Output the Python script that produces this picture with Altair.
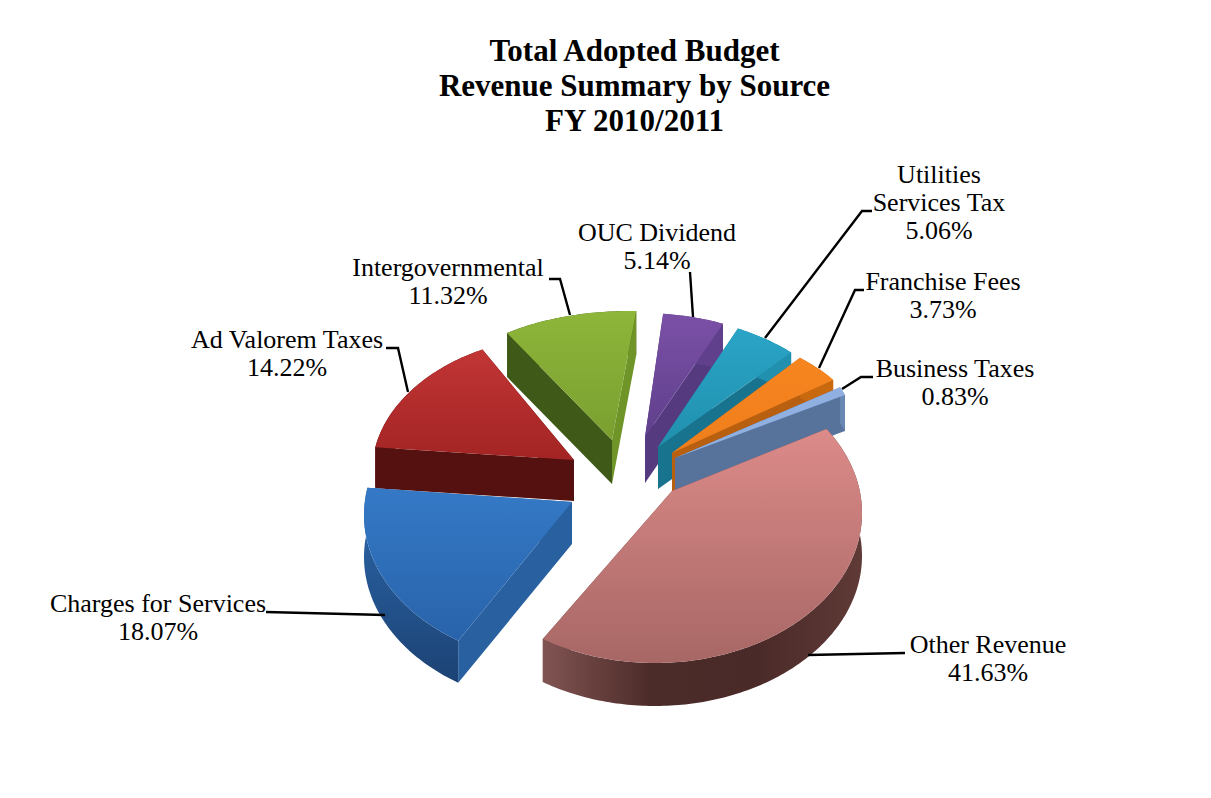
import math
import altair as alt

# ---- chart values -------------------------------------------------------
SOURCES = ["Other Revenue", "Charges for Services", "Ad Valorem Taxes", "Intergovernmental",
           "OUC Dividend", "Utilities Services Tax", "Franchise Fees", "Business Taxes"]
SHARES = [41.63, 18.07, 14.22, 11.32, 5.14, 5.06, 3.73, 0.83]
LABEL_LINES = [["Other Revenue"], ["Charges for Services"], ["Ad Valorem Taxes"], ["Intergovernmental"],
               ["OUC Dividend"], ["Utilities", "Services Tax"], ["Franchise Fees"], ["Business Taxes"]]
TITLE_LINES = ["Total Adopted Budget", "Revenue Summary by Source", "FY 2010/2011"]

# ---- layout of the tilted, exploded pie (page pixels) --------------------
# apex, ellipse centre, radii, start angle, angle stretch from perspective, depth
GEOM = {
    "Other Revenue":          dict(a=(672, 491), c=(655, 513), r=(207, 150), t=55.9, k=1.047, d=43),
    "Charges for Services":   dict(a=(572, 502), c=(571, 515), r=(207, 150), t=213.0, k=1.037, d=42),
    "Ad Valorem Taxes":       dict(a=(574, 460), c=(572, 472), r=(200, 137), t=280.4, k=1.035, d=41),
    "Intergovernmental":      dict(a=(612, 440), c=(630, 404), r=(190, 93), t=-40.3, k=1.035, d=44),
    "OUC Dividend":           dict(a=(645, 437), c=(640, 420), r=(190, 107), t=7.0, k=1.02, d=46),
    "Utilities Services Tax": dict(a=(658, 447), c=(640, 440), r=(210, 126), t=27.8, k=1.0, d=42),
    "Franchise Fees":         dict(a=(672, 453), c=(600, 430), r=(260, 113), t=50.3, k=1.0, d=40),
    "Business Taxes":         dict(a=(675, 458), c=(600, 448), r=(260, 158), t=67.4, k=1.0, d=36),
}
DRAW_ORDER = ["Intergovernmental", "Ad Valorem Taxes", "OUC Dividend", "Utilities Services Tax",
              "Franchise Fees", "Business Taxes", "Charges for Services", "Other Revenue"]
OUTER_WALL_FIRST = {"Intergovernmental"}


def vgrad(c1, c2):
    return {"gradient": "linear", "x1": 0, "y1": 0, "x2": 0, "y2": 1,
            "stops": [{"offset": 0, "color": c1}, {"offset": 1, "color": c2}]}


def hgrad(*cols):
    n = len(cols) - 1
    return {"gradient": "linear", "x1": 0, "y1": 0, "x2": 1, "y2": 0,
            "stops": [{"offset": i / n, "color": c} for i, c in enumerate(cols)]}


# top face, outer wall, wall of start edge, wall of end edge
STYLE = {
    "Other Revenue": (vgrad("#dc8b89", "#a76765"), hgrad("#815452", "#4c2c29", "#4a2a28", "#5f3a37"), "#6f4442", "#6f4442"),
    "Charges for Services": (vgrad("#3579c6", "#2863aa"), vgrad("#2c69ad", "#1c4274"), "#29609f", "#29609f"),
    "Ad Valorem Taxes": (vgrad("#c23535", "#a32424"), "#551010", "#551010", "#551010"),
    "Intergovernmental": (vgrad("#8db63a", "#7a9f30"), "#3f5a18", "#3f5a18", "#6f9428"),
    "OUC Dividend": (vgrad("#7a50a6", "#60408c"), "#60408c", "#553a80", "#553a80"),
    "Utilities Services Tax": (vgrad("#2aa4c6", "#2190ae"), "#2190ae", "#18738e", "#18738e"),
    "Franchise Fees": (vgrad("#f78620", "#ee7d1c"), "#c8680f", "#b85f10", "#b85f10"),
    "Business Taxes": ("#8fb0e0", "#6a88b4", "#57739c", "#57739c"),
}

# label centres and leader paths, page pixels
LABEL_POS = {
    "Other Revenue": (988, 645), "Charges for Services": (158, 604), "Ad Valorem Taxes": (287, 340),
    "Intergovernmental": (448, 268), "OUC Dividend": (657, 233), "Utilities Services Tax": (939, 175),
    "Franchise Fees": (943, 282), "Business Taxes": (955, 369),
}
LEADERS = {
    "Other Revenue": [(905, 653), (808, 655)],
    "Charges for Services": [(266, 612), (385, 615)],
    "Ad Valorem Taxes": [(386, 348), (398, 348), (408, 392)],
    "Intergovernmental": [(549, 279), (560, 279), (570, 315)],
    "OUC Dividend": [(690, 272), (693, 317)],
    "Utilities Services Tax": [(872, 211), (862, 211), (765, 338)],
    "Franchise Fees": [(864, 290), (855, 290), (819, 368)],
    "Business Taxes": [(873, 377), (861, 377), (842, 389)],
}

PAD_TOP = 130
OX, OY = 8, 8 + PAD_TOP
PROJ = dict(type="identity", scale=1, translate=[-OX, -OY])
FONT = "Liberation Serif"


def polygon(points, fill):
    ring = [list(p) for p in points] + [list(points[0])]
    feature = {"type": "Feature", "properties": {},
               "geometry": {"type": "Polygon", "coordinates": [ring]}}
    return (alt.Chart(alt.InlineData(values=[feature]))
            .mark_geoshape(fill=fill, strokeWidth=0, filled=True)
            .project(**PROJ))


def polyline(points):
    feature = {"type": "Feature", "properties": {},
               "geometry": {"type": "LineString", "coordinates": [list(p) for p in points]}}
    return (alt.Chart(alt.InlineData(values=[feature]))
            .mark_geoshape(filled=False, stroke="#000000", strokeWidth=2.4)
            .project(**PROJ))


def down(points, d):
    return [(x, y + d) for x, y in points]


layers = []
share_of = dict(zip(SOURCES, SHARES))
for name in DRAW_ORDER:
    g = GEOM[name]
    top, outer, cut0, cut1 = STYLE[name]
    sweep = share_of[name] * 3.6 * g["k"]
    n = max(4, int(sweep))
    arc = []
    for i in range(n + 1):
        t = math.radians(g["t"] + sweep * i / n)
        arc.append((g["c"][0] + g["r"][0] * math.sin(t), g["c"][1] - g["r"][1] * math.cos(t)))
    d, a = g["d"], g["a"]
    outer_wall = polygon(arc + down(arc[::-1], d), outer)
    if name in OUTER_WALL_FIRST:
        layers.append(outer_wall)
    layers.append(polygon([a, arc[-1]] + down([arc[-1], a], d), cut1))
    layers.append(polygon([a, arc[0]] + down([arc[0], a], d), cut0))
    if name not in OUTER_WALL_FIRST:
        layers.append(outer_wall)
    layers.append(polygon([a] + arc, top))

for name in SOURCES:
    layers.append(polyline(LEADERS[name]))

for name, share, lines in zip(SOURCES, SHARES, LABEL_LINES):
    px, py = LABEL_POS[name]
    layers.append(
        alt.Chart(alt.InlineData(values=[{"source": name}]))
        .mark_text(text=lines + [f"{share:.2f}%"], font=FONT, fontSize=26, lineHeight=28,
                   color="#000000", align="center", baseline="top")
        .encode(x=alt.value(px - OX), y=alt.value(py - OY - 13))
    )

chart = alt.layer(*layers).properties(
    width=1195,
    height=640,
    padding={"top": PAD_TOP, "left": 0, "right": 0, "bottom": 0},
    autosize=alt.AutoSizeParams(type="none"),
    background="#ffffff",
    title=alt.TitleParams(text=TITLE_LINES, font=FONT, fontSize=31, fontWeight="bold",
                          color="#000000", lineHeight=35, anchor="middle", dx=29, offset=0),
).configure_view(stroke=None)

chart.save("out.html", embed_options={"renderer": "svg", "actions": False})
